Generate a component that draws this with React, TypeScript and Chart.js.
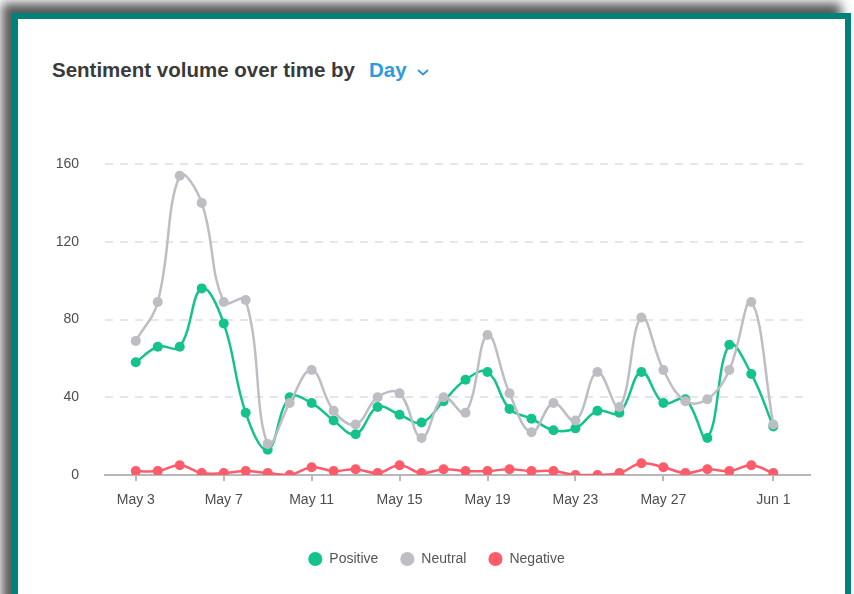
import React, { useEffect, useRef } from "react";
import { Chart, registerables } from "chart.js";

Chart.register(...registerables);

const dates = [
  "May 3", "May 4", "May 5", "May 6", "May 7", "May 8", "May 9", "May 10",
  "May 11", "May 12", "May 13", "May 14", "May 15", "May 16", "May 17", "May 18",
  "May 19", "May 20", "May 21", "May 22", "May 23", "May 24", "May 25", "May 26",
  "May 27", "May 28", "May 29", "May 30", "May 31", "Jun 1",
];

const xTickLabels = ["May 3", "May 7", "May 11", "May 15", "May 19", "May 23", "May 27", "Jun 1"];

const positive = [
  58, 66, 66, 96, 78, 32, 13, 40, 37, 28, 21, 35, 31, 27, 38, 49,
  53, 34, 29, 23, 24, 33, 32, 53, 37, 39, 19, 67, 52, 25,
];

const neutral = [
  69, 89, 154, 140, 89, 90, 16, 37, 54, 33, 26, 40, 42, 19, 40, 32,
  72, 42, 22, 37, 28, 53, 35, 81, 54, 38, 39, 54, 89, 26,
];

const negative = [
  2, 2, 5, 1, 1, 2, 1, 0, 4, 2, 3, 1, 5, 1, 3, 2,
  2, 3, 2, 2, 0, 0, 1, 6, 4, 1, 3, 2, 5, 1,
];

const yMin = 0;
const yMax = 160;
const yStep = 40;

const FONT = "'Liberation Sans', Arial, Helvetica, sans-serif";
const GREEN = "#13c38b";
const GRAY = "#bebdc4";
const RED = "#ff5b6b";

export default function App() {
  const ref = useRef<HTMLCanvasElement>(null);

  useEffect(() => {
    const canvas = ref.current;
    if (!canvas) return;
    const toPoints = (arr: number[]) => arr.map((y, i) => ({ x: i, y }));
    const tickIdx = xTickLabels.map((l) => dates.indexOf(l));
    const common = {
      borderWidth: 2.5,
      pointRadius: 5,
      pointHoverRadius: 5,
      pointBorderWidth: 0,
      tension: 0.4,
      fill: false,
    };
    const chart = new Chart(canvas, {
      type: "line",
      data: {
        datasets: [
          { label: "Positive", data: toPoints(positive), borderColor: GREEN, backgroundColor: GREEN, pointBackgroundColor: GREEN, order: 1, ...common },
          { label: "Neutral", data: toPoints(neutral), borderColor: GRAY, backgroundColor: GRAY, pointBackgroundColor: GRAY, order: 0, ...common },
          { label: "Negative", data: toPoints(negative), borderColor: RED, backgroundColor: RED, pointBackgroundColor: RED, order: 2, ...common },
        ],
      },
      options: {
        responsive: false,
        animation: false,
        layout: { padding: { left: 13, right: 20, top: 64, bottom: 18 } },
        plugins: {
          legend: {
            position: "bottom",
            labels: {
              usePointStyle: true,
              pointStyle: "circle",
              boxHeight: 10,
              padding: 22,
              color: "#555",
              font: { family: FONT, size: 14 },
              sort: (a: any, b: any) => a.datasetIndex - b.datasetIndex,
            },
          },
          tooltip: { enabled: false },
        },
        scales: {
          x: {
            type: "linear",
            min: -1.4,
            max: 30.67,
            afterBuildTicks: (s: any) => {
              s.ticks = tickIdx.map((v) => ({ value: v }));
            },
            afterFit: (s: any) => {
              s.height = 55;
            },
            ticks: {
              callback: (v: any) => dates[v as number],
              color: "#4d4d4d",
              font: { family: FONT, size: 14 },
              padding: 11,
              maxRotation: 0,
              autoSkip: false,
            },
            grid: {
              drawOnChartArea: false,
              drawTicks: true,
              tickLength: 6,
              color: "#b8b8b8",
              lineWidth: 2,
            },
            border: { display: true, color: "#b8b8b8", width: 2 },
          },
          y: {
            min: yMin,
            max: yMax,
            afterFit: (s: any) => {
              s.width = 52;
            },
            ticks: {
              stepSize: yStep,
              padding: 26,
              color: "#4d4d4d",
              font: { family: FONT, size: 14 },
            },
            grid: { color: "#e4e6ec", lineWidth: 2, drawTicks: false },
            border: { display: false, dash: [8, 7] },
          },
          yRight: {
            type: "linear",
            position: "right",
            display: true,
            ticks: { display: false },
            grid: { display: false, drawTicks: false },
            border: { display: false },
            afterFit: (s: any) => {
              s.width = 10;
            },
          },
        },
      } as any,
    });
    return () => chart.destroy();
  }, []);

  return (
    <div
      style={{
        position: "fixed",
        left: 0,
        top: 0,
        width: 854,
        height: 594,
        overflow: "hidden",
        background: "#fff",
      }}
    >
      <div
        style={{
          position: "absolute",
          left: 12,
          top: 13,
          width: 839,
          height: 700,
          boxSizing: "border-box",
          border: "6px solid #00827a",
          background: "#fff",
          boxShadow: "-10px -10px 10px rgba(0,0,0,0.65)",
        }}
      />
      <div
        style={{
          position: "absolute",
          left: 52,
          top: 58,
          height: 24,
          lineHeight: "24px",
          fontFamily: FONT,
          fontSize: 20.5,
          fontWeight: "bold",
          color: "#3a3a3a",
          whiteSpace: "nowrap",
        }}
      >
        Sentiment volume over time by
        <span style={{ color: "#2f9ae0", marginLeft: 14 }}>Day</span>
        <svg
          width="14"
          height="10"
          style={{ marginLeft: 9, verticalAlign: "middle" }}
          viewBox="0 0 14 10"
        >
          <polyline points="2,3 7,7.5 12,3" fill="none" stroke="#2f9ae0" strokeWidth="2" />
        </svg>
      </div>
      <canvas
        ref={ref}
        width={800}
        height={494}
        style={{ position: "absolute", left: 40, top: 100, width: 800, height: 494 }}
      />
    </div>
  );
}
